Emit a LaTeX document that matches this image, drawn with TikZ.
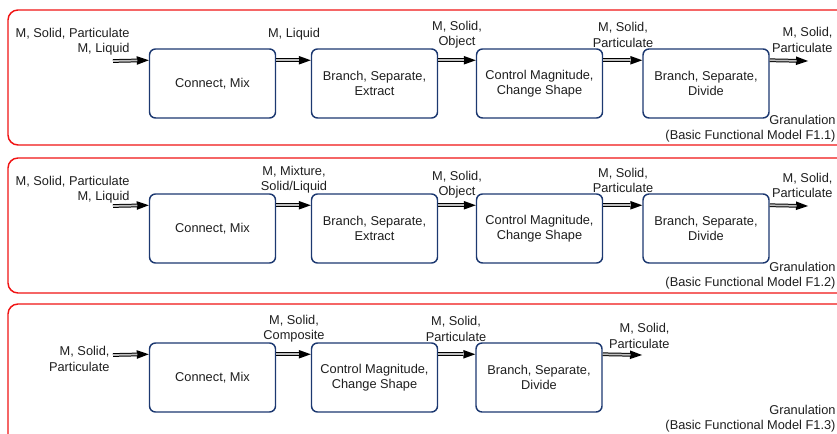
\documentclass[tikz,border=0pt]{standalone}
\usepackage{fontspec}
\setmainfont{Liberation Sans}
\usetikzlibrary{arrows.meta}

\definecolor{panelred}{RGB}{240,20,20}
\definecolor{boxblue}{RGB}{28,56,112}
\definecolor{labelgray}{RGB}{30,30,30}

\tikzset{every picture/.style={line width=0.75pt}}
\tikzset{
  panel/.style={draw=panelred, line width=1.1pt, rounded corners=7.5pt},
  fbox/.style={draw=boxblue, line width=1.1pt, rounded corners=4.5pt, minimum width=94.5pt, minimum height=51.75pt, align=center, inner sep=0pt, text=labelgray},
  flow/.style={draw=black, line width=2.8pt, -{Triangle[length=9pt,width=6.5pt,line width=0pt]},
    postaction={draw=gray!50, line width=1.3pt, -, shorten >=8.5pt}},
  lbl/.style={inner sep=0pt, align=center, text=labelgray},
  lblr/.style={inner sep=0pt, align=right, text=labelgray, anchor=east}
}

\begin{document}
\begin{tikzpicture}[x=0.75pt,y=0.75pt,yscale=-1,xscale=1,font=\fontsize{9.6}{11.5}\selectfont]
\clip (0,0) rectangle (837,434);

% Panel F1.1
\draw [panel] (8,10) rectangle (852,145);
% Text Node
\node [fbox] (a1) at (212.5,83.5) {Connect, Mix};
\node [fbox] (a2) at (374.5,83.5) {Branch, Separate,\\Extract};
\node [fbox] (a3) at (539.5,83.5) {Control Magnitude,\\Change Shape};
\node [fbox] (a4) at (706,83.5) {Branch, Separate,\\Divide};
\coordinate (ain) at (113,61);
\coordinate (aout) at (808,61);
% Text Node
\node [lblr] (ainl) at (130,41.5) {M, Solid, Particulate\\M, Liquid};
\node [lbl] (al1) at (294,34) {M, Liquid};
\node [lbl] (al2) at (457,35) {M, Solid,\\Object};
\node [lbl] (al3) at (623,35) {M, Solid,\\Particulate};
\node [lblr] (aoutl) at (833,40) {M, Solid,\\Particulate};
\node [lblr] (aname) at (836,129) {Granulation\\(Basic Functional Model F1.1)};
% Connection
\draw [flow] (ain) -- ([yshift=9pt]a1.north west);
\draw [flow] ([yshift=9pt]a1.north east) -- ([yshift=9pt]a2.north west);
\draw [flow] ([yshift=9pt]a2.north east) -- ([yshift=9pt]a3.north west);
\draw [flow] ([yshift=9pt]a3.north east) -- ([yshift=9pt]a4.north west);
\draw [flow] ([yshift=9pt]a4.north east) -- (aout);

% Panel F1.2
\draw [panel] (8,158) rectangle (852,293);
% Text Node
\node [fbox] (b1) at (212.5,228.5) {Connect, Mix};
\node [fbox] (b2) at (374.5,228.5) {Branch, Separate,\\Extract};
\node [fbox] (b3) at (539.5,228.5) {Control Magnitude,\\Change Shape};
\node [fbox] (b4) at (706,228.5) {Branch, Separate,\\Divide};
\coordinate (bin) at (113,206);
\coordinate (bout) at (808,206);
% Text Node
\node [lblr] (binl) at (130,189.5) {M, Solid, Particulate\\M, Liquid};
\node [lbl] (bl1) at (294,180) {M, Mixture,\\Solid/Liquid};
\node [lbl] (bl2) at (457,184.5) {M, Solid,\\Object};
\node [lbl] (bl3) at (623,180.5) {M, Solid,\\Particulate};
\node [lblr] (boutl) at (833,185.5) {M, Solid,\\Particulate};
\node [lblr] (bname) at (836,276) {Granulation\\(Basic Functional Model F1.2)};
% Connection
\draw [flow] (bin) -- ([yshift=9pt]b1.north west);
\draw [flow] ([yshift=9pt]b1.north east) -- ([yshift=9pt]b2.north west);
\draw [flow] ([yshift=9pt]b2.north east) -- ([yshift=9pt]b3.north west);
\draw [flow] ([yshift=9pt]b3.north east) -- ([yshift=9pt]b4.north west);
\draw [flow] ([yshift=9pt]b4.north east) -- (bout);

% Panel F1.3
\draw [panel] (8,304) rectangle (852,452);
% Text Node
\node [fbox] (c1) at (212.5,377.5) {Connect, Mix};
\node [fbox] (c2) at (374.5,377.5) {Control Magnitude,\\Change Shape};
\node [fbox] (c3) at (539,377.5) {Branch, Separate,\\Divide};
\coordinate (cin) at (113,355);
\coordinate (cout) at (642,355);
% Text Node
\node [lblr] (cinl) at (110,359) {M, Solid,\\Particulate};
\node [lbl] (cl1) at (294,329) {M, Solid,\\Composite};
\node [lbl] (cl2) at (456,329) {M, Solid,\\Particulate};
\node [lblr] (coutl) at (670,336) {M, Solid,\\Particulate};
\node [lblr] (cname) at (836,419) {Granulation\\(Basic Functional Model F1.3)};
% Connection
\draw [flow] (cin) -- ([yshift=9pt]c1.north west);
\draw [flow] ([yshift=9pt]c1.north east) -- ([yshift=9pt]c2.north west);
\draw [flow] ([yshift=9pt]c2.north east) -- ([yshift=9pt]c3.north west);
\draw [flow] ([yshift=9pt]c3.north east) -- (cout);

\end{tikzpicture}
\end{document}
